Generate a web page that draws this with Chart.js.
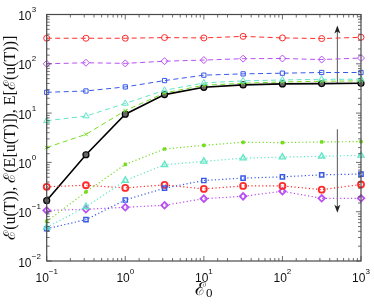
<!DOCTYPE html>
<html><head><meta charset="utf-8">
<script src="https://cdn.jsdelivr.net/npm/chart.js@4.4.0/dist/chart.umd.min.js"></script>
<style>html,body{margin:0;padding:0;background:#fff}#wrap{width:374px;height:306px}</style>
</head><body><div id="wrap"><canvas id="c" width="374" height="306"></canvas></div>
<script>
const xValues = [0.1, 0.316, 1, 3.16, 10, 31.6, 100, 316, 1000];
const redUpper    = [330, 330, 330, 340, 335, 360, 335, 325, 345];
const purpleUpper = [100, 105, 102, 113, 119, 127, 128, 122, 131];
const blueUpper   = [26.4, 28.1, 34, 45.7, 58.8, 62.5, 64.5, 66.6, 66.6];
const cyanUpper   = [7.0, 8.7, 15.7, 29, 41, 45, 47, 48.6, 48.6];
const greenUpper  = [2.0, 3.7, 11.2, 25.6, 36.7, 40.3, 42.9, 44.3, 45];
const blackMean   = [0.168, 1.43, 9.5, 23.7, 33.4, 37.3, 39.1, 39.7, 40.3];
const greenLower  = [0.0635, 0.252, 0.91, 1.87, 2.22, 2.56, 2.52, 2.60, 2.64];
const cyanLower   = [0.048, 0.126, 0.43, 0.895, 1.05, 1.22, 1.28, 1.33, 1.39];
const blueLower   = [0.045, 0.069, 0.173, 0.30, 0.43, 0.48, 0.51, 0.56, 0.58];
const redLower    = [0.32, 0.344, 0.304, 0.35, 0.29, 0.334, 0.334, 0.28, 0.356];
const purpleLower = [0.106, 0.112, 0.123, 0.135, 0.184, 0.205, 0.26, 0.187, 0.187];
const xTickExps = [-1, 0, 1, 2, 3];
const yTickExps = [-2, -1, 0, 1, 2, 3];
const xTitle = ['ℰ', '0'];
const yTitle = 'ℰ(u(T)), ℰ(E[u(T)]), E[ℰ(u(T))]';
const arrows = [{x: 500, from: 40, to: 600}, {x: 500, from: 4.7, to: 0.095}];

const C = {red:'#ff2a2a', purple:'#b94ff2', blue:'#3858e8', cyan:'#62e6c6', green:'#74dc1e'};
function pts(arr){ return arr.map((v,i)=>({x:xValues[i], y:v})); }
function dashed(arr, col, style, r){
  return {data:pts(arr), clip:false, borderColor:col, borderWidth:1, borderDash:[5,3.5], pointStyle:style,
    pointRadius:r, pointBorderColor:col, pointBackgroundColor:'rgba(255,255,255,0)', pointBorderWidth:1, tension:0};
}
function dotted(arr, col, style, r, bw){
  return {data:pts(arr), clip:false, borderColor:col, borderWidth:1.2, borderDash:[1.2,2.4], pointStyle:style,
    pointRadius:r, pointBorderColor:col, pointBackgroundColor:'rgba(255,255,255,0)', pointBorderWidth:bw, tension:0};
}
const datasets = [
  dashed(redUpper, C.red, 'circle', 3),
  dashed(purpleUpper, C.purple, 'rectRot', 3.5),
  dashed(blueUpper, C.blue, 'rect', 3),
  dashed(cyanUpper, C.cyan, 'triangle', 3.5),
  dashed(greenUpper, C.green, 'crossRot', 2.5),
  dotted(greenLower, C.green, 'crossRot', 2, 2),
  dotted(cyanLower, C.cyan, 'triangle', 3.5, 1.4),
  dotted(blueLower, C.blue, 'rect', 3, 1.4),
  dotted(redLower, C.red, 'circle', 3, 1.8),
  dotted(purpleLower, C.purple, 'rectRot', 3.3, 1.8),
  {data:pts(blackMean), clip:false, borderColor:'#000', borderWidth:1.6, pointStyle:'circle', pointRadius:3,
   pointBorderColor:'#000', pointBackgroundColor:'#666', pointBorderWidth:1.2, tension:0}
];

const decor = {
  id:'decor',
  beforeDatasetsDraw(chart){
    const ctx = chart.ctx, xs = chart.scales.x, ys = chart.scales.y;
    ctx.save();
    ctx.strokeStyle = '#555'; ctx.fillStyle = '#222'; ctx.lineWidth = 1;
    arrows.forEach(ar=>{
      const px = xs.getPixelForValue(ar.x), y0 = ys.getPixelForValue(ar.from), y1 = ys.getPixelForValue(ar.to);
      const dir = y1 < y0 ? 1 : -1;
      ctx.beginPath(); ctx.moveTo(px, y0); ctx.lineTo(px, y1 + dir*5); ctx.stroke();
      ctx.beginPath(); ctx.moveTo(px, y1); ctx.lineTo(px-3, y1+dir*8); ctx.lineTo(px, y1+dir*6); ctx.lineTo(px+3, y1+dir*8); ctx.closePath(); ctx.fill();
    });
    ctx.restore();
  },
  afterDatasetsDraw(chart){
    const ctx = chart.ctx, a = chart.chartArea, xs = chart.scales.x, ys = chart.scales.y;
    ctx.save();
    ctx.strokeStyle = '#4a4a4a'; ctx.lineWidth = 1.2;
    ctx.strokeRect(a.left, a.top, a.right-a.left, a.bottom-a.top);
    ctx.lineWidth = 0.8;
    ctx.beginPath();
    xs.ticks.forEach(t=>{
      const lg = Math.log10(t.value); const major = Math.abs(lg-Math.round(lg))<1e-6;
      const L = major?5:3; const px = xs.getPixelForValue(t.value);
      if (px < a.left-0.5 || px > a.right+0.5) return;
      ctx.moveTo(px, a.bottom); ctx.lineTo(px, a.bottom-L);
      ctx.moveTo(px, a.top); ctx.lineTo(px, a.top+L);
    });
    ys.ticks.forEach(t=>{
      const lg = Math.log10(t.value); const major = Math.abs(lg-Math.round(lg))<1e-6;
      const L = major?5:3; const py = ys.getPixelForValue(t.value);
      if (py < a.top-0.5 || py > a.bottom+0.5) return;
      ctx.moveTo(a.left, py); ctx.lineTo(a.left+L, py);
      ctx.moveTo(a.right, py); ctx.lineTo(a.right-L, py);
    });
    ctx.stroke();
    ctx.fillStyle = '#111'; ctx.textBaseline = 'alphabetic';
    const big = '12px "Liberation Sans", Arial, sans-serif', sm = '8px "Liberation Sans", Arial, sans-serif';
    xTickExps.forEach(e=>{
      const px = xs.getPixelForValue(Math.pow(10,e));
      ctx.font = big; const w1 = ctx.measureText('10').width;
      const es = String(e).replace('-', '\u2212');
      ctx.font = sm; const w2 = ctx.measureText(es).width;
      const x0 = px - (w1+w2)/2;
      ctx.font = big; ctx.textAlign='left'; ctx.fillText('10', x0, a.bottom+20.5);
      ctx.font = sm; ctx.fillText(es, x0+w1, a.bottom+12.5);
    });
    yTickExps.forEach(e=>{
      const py = ys.getPixelForValue(Math.pow(10,e));
      const es = String(e).replace('-', '\u2212');
      ctx.font = big; ctx.textAlign='right'; ctx.fillText('10', 31.5, py+5.5);
      ctx.font = sm; ctx.textAlign='left'; ctx.fillText(es, 31.8, py-2.5);
    });
    ctx.font = '18px "DejaVu Serif", "Liberation Serif", serif';
    const cx = (a.left+a.right)/2;
    const wE = ctx.measureText(xTitle[0]).width;
    ctx.font = '13px "Liberation Serif", serif';
    const w0 = ctx.measureText(xTitle[1]).width;
    const xs0 = cx - (wE+w0)/2;
    ctx.font = '18px "DejaVu Serif", "Liberation Serif", serif'; ctx.textAlign='left';
    ctx.fillText(xTitle[0], xs0, 295);
    ctx.font = '13px "Liberation Serif", serif';
    ctx.fillText(xTitle[1], xs0+wE, 297);
    ctx.save();
    ctx.translate(15, (a.top+a.bottom)/2); ctx.rotate(-Math.PI/2);
    ctx.font = '16px "Liberation Serif", "DejaVu Serif", serif'; ctx.textAlign='center';
    ctx.fillText(yTitle, 0, 0);
    ctx.restore();
    ctx.restore();
  }
};

new Chart(document.getElementById('c'), {
  type:'line',
  data:{datasets},
  options:{
    responsive:false, animation:false, devicePixelRatio:1,
    layout:{padding:{left:0, right:13, top:14.5, bottom:0}},
    plugins:{legend:{display:false}, tooltip:{enabled:false}},
    scales:{
      x:{type:'logarithmic', min:0.1, max:1000, grid:{display:false}, border:{display:false},
         ticks:{display:false}, afterFit(s){ s.height = 45; }},
      y:{type:'logarithmic', min:0.01, max:1000, grid:{display:false}, border:{display:false},
         ticks:{display:false}, afterFit(s){ s.width = 46.7; }}
    }
  },
  plugins:[decor]
});
</script></body></html>
